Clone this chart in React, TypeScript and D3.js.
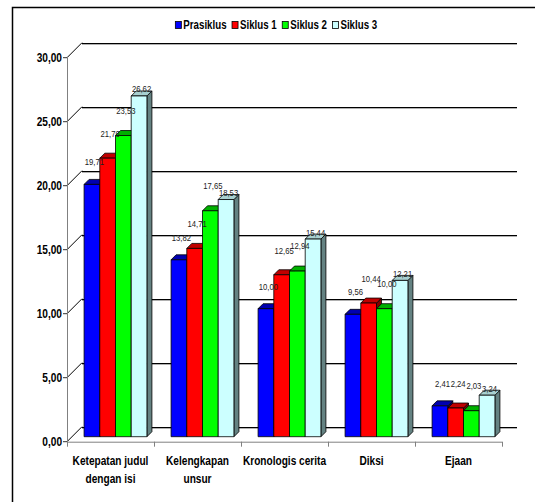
import React, { useEffect, useRef } from "react";
import * as d3 from "d3";

// Data
const categories = [
  ["Ketepatan judul", "dengan isi"],
  ["Kelengkapan", "unsur"],
  ["Kronologis cerita"],
  ["Diksi"],
  ["Ejaan"],
];
const seriesNames = ["Prasiklus", "Siklus 1", "Siklus 2", "Siklus 3"];
const prasiklus = [19.71, 13.82, 10.0, 9.56, 2.41];
const siklus1 = [21.76, 14.71, 12.65, 10.44, 2.24];
const siklus2 = [23.53, 17.65, 12.94, 10.0, 2.03];
const siklus3 = [26.62, 18.53, 15.44, 12.21, 3.24];
const yTicks = [0, 5, 10, 15, 20, 25, 30];

const seriesValues = [prasiklus, siklus1, siklus2, siklus3];

// Styles
const FONT = "'Liberation Sans', Arial, sans-serif";
const SX = 0.81; // narrow look (Arial Narrow is not installed)
const front = ["#0000ff", "#ff0000", "#00ff00", "#ccffff"];
const topC = ["#0000b0", "#c00000", "#00b000", "#a8d0d0"];
const sideC = ["#000080", "#800000", "#008000", "#648282"];
const labelDy = [-19, -21, -22, -3.5];

const W = 535;
const H = 502;
const DEPTH = 15; // wall depth
const OFF = 5; // bar front offset
const BD = 5; // bar depth

const fmt = (v: number) => d3.format(".2f")(v).replace(".", ",");

export default function App() {
  const ref = useRef<SVGSVGElement>(null);

  useEffect(() => {
    const svg = d3.select(ref.current);
    svg.selectAll("*").remove();

    const narrow = (g: any, x: number, y: number, s: string) =>
      g.append("text").attr("transform", `translate(${x},${y}) scale(${SX},1)`).text(s);

    const x0 = d3
      .scaleBand<number>()
      .domain(categories.map((_, i) => i))
      .range([67, 502]);
    const x1 = d3
      .scaleBand<number>()
      .domain(seriesNames.map((_, i) => i))
      .range([0, x0.bandwidth()])
      .paddingInner(0)
      .paddingOuter(0.77);
    const y = d3.scaleLinear().domain([0, 30]).range([441.7, 57.7]);

    // outer border
    svg
      .append("rect")
      .attr("x", 12.5)
      .attr("y", 7.5)
      .attr("width", 700)
      .attr("height", 700)
      .attr("fill", "white")
      .attr("stroke", "#000")
      .attr("stroke-width", 1.5);

    const left = x0.range()[0];
    const right = x0.range()[1];

    // back wall gridlines with a soft shadow
    const grid = svg.append("g");
    yTicks.forEach((t) => {
      const yy = Math.round(y(t) - DEPTH) + 0.5;
      grid
        .append("line")
        .attr("x1", left + DEPTH)
        .attr("x2", right + DEPTH)
        .attr("y1", yy + 1)
        .attr("y2", yy + 1)
        .attr("stroke", "#b0b0b0");
      grid
        .append("line")
        .attr("x1", left + DEPTH)
        .attr("x2", right + DEPTH)
        .attr("y1", yy)
        .attr("y2", yy)
        .attr("stroke", "#000");
      // left wall diagonal
      grid
        .append("line")
        .attr("x1", left)
        .attr("y1", y(t))
        .attr("x2", left + DEPTH)
        .attr("y2", y(t) - DEPTH)
        .attr("stroke", "#000");
    });

    // front axes
    const ax = svg.append("g").attr("stroke", "#808080").attr("fill", "none");
    ax.append("line").attr("x1", left + 0.5).attr("x2", left + 0.5).attr("y1", y(30)).attr("y2", y(0));
    ax.append("line").attr("x1", left).attr("x2", right).attr("y1", y(0) + 0.5).attr("y2", y(0) + 0.5);
    yTicks.forEach((t) => {
      ax.append("line").attr("x1", left - 4).attr("x2", left).attr("y1", y(t)).attr("y2", y(t)).attr("stroke", "#333");
    });
    d3.range(categories.length + 1).forEach((i) => {
      const xx = Math.round(left + i * x0.step()) + 0.5;
      ax.append("line").attr("x1", xx).attr("x2", xx).attr("y1", y(0)).attr("y2", y(0) + 5);
    });

    // bars
    const bars = svg.append("g").attr("stroke", "#000").attr("stroke-width", 0.8).attr("stroke-linejoin", "round");
    categories.forEach((_, ci) => {
      seriesValues.forEach((vals, si) => {
        const v = vals[ci];
        const bx = (x0(ci) ?? 0) + (x1(si) ?? 0) + OFF;
        const bw = x1.bandwidth();
        const yt = y(v) - OFF;
        const yb = y(0) - OFF;
        bars
          .append("polygon")
          .attr("points", [[bx + bw, yt], [bx + bw + BD, yt - BD], [bx + bw + BD, yb - BD], [bx + bw, yb]].map((p) => p.join(",")).join(" "))
          .attr("fill", sideC[si]);
        bars
          .append("polygon")
          .attr("points", [[bx, yt], [bx + bw, yt], [bx + bw + BD, yt - BD], [bx + BD, yt - BD]].map((p) => p.join(",")).join(" "))
          .attr("fill", topC[si]);
        bars.append("rect").attr("x", bx).attr("y", yt).attr("width", bw).attr("height", yb - yt).attr("fill", front[si]);
      });
    });

    // value labels
    const labels = svg.append("g").attr("font-family", FONT).attr("font-size", 9.5).attr("fill", "#222").attr("text-anchor", "middle");
    categories.forEach((_, ci) => {
      seriesValues.forEach((vals, si) => {
        const v = vals[ci];
        const bx = (x0(ci) ?? 0) + (x1(si) ?? 0) + OFF;
        narrow(labels, bx + x1.bandwidth() / 2 + BD / 2, y(v) - OFF + labelDy[si], fmt(v));
      });
    });

    // y tick labels
    const yl = svg
      .append("g")
      .attr("font-family", FONT)
      .attr("font-size", 12.5)
      .attr("font-weight", "bold")
      .attr("text-anchor", "end");
    yTicks.forEach((t) => narrow(yl, left - 5, y(t) + 4.5, fmt(t)));

    // category labels
    const cat = svg.append("g").attr("font-family", FONT).attr("font-size", 12.5).attr("font-weight", "bold").attr("text-anchor", "middle");
    categories.forEach((lines, ci) => {
      lines.forEach((ln, li) => {
        narrow(cat, (x0(ci) ?? 0) + x0.bandwidth() / 2, 465 + li * 18, ln);
      });
    });

    // legend
    const lg = svg.append("g").attr("font-family", FONT).attr("font-size", 12).attr("font-weight", "bold");
    const items = seriesNames.map((name, i) => {
      const g = lg.append("g");
      g.append("rect").attr("x", 0.5).attr("y", -7.5).attr("width", 6).attr("height", 7).attr("fill", front[i]).attr("stroke", "#000").attr("stroke-width", 0.8);
      const t = narrow(g, 8.5, 0, name);
      const tw = (t.node() as SVGTextElement).getComputedTextLength() * SX;
      return { g, w: 8.5 + tw };
    });
    const gap = 5;
    const total = d3.sum(items, (d) => d.w) + gap * (items.length - 1);
    let cx = 276 - total / 2;
    items.forEach((it) => {
      it.g.attr("transform", `translate(${cx},29)`);
      cx += it.w + gap;
    });
  }, []);

  return (
    <svg
      ref={ref}
      width={W}
      height={H}
      style={{ position: "absolute", left: 0, top: 0, background: "#fff" }}
    />
  );
}
